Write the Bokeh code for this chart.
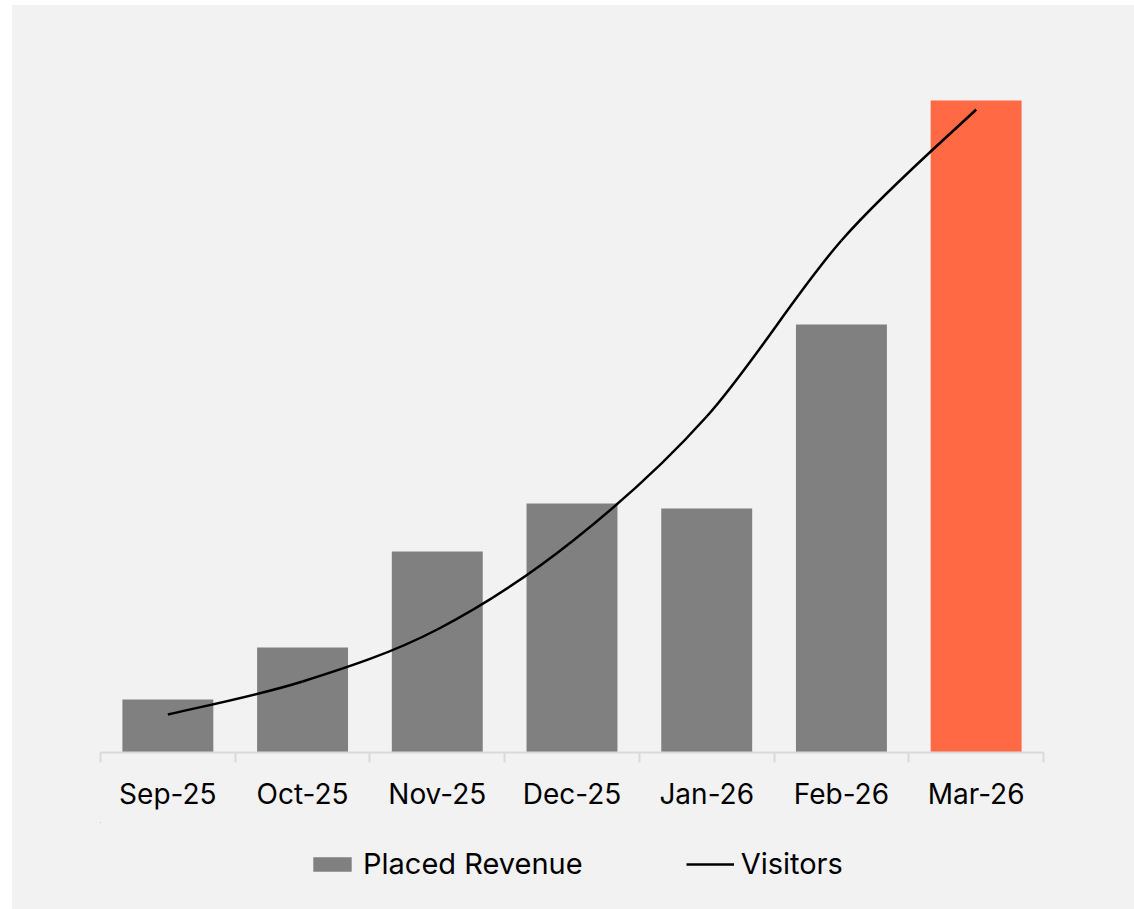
import numpy as np
from bokeh.plotting import figure
from bokeh.layouts import column
from bokeh.models import Range1d, FixedTicker, Legend, LegendItem, ColumnDataSource
from bokeh.embed import file_html
from bokeh.resources import INLINE

months = ["Sep-25", "Oct-25", "Nov-25", "Dec-25", "Jan-26", "Feb-26", "Mar-26"]
placed_revenue = [53, 105, 201, 249, 244, 428, 652]
visitors = [380, 710, 1230, 2110, 3360, 5120, 6430]
bar_colors = ["#808080"] * 6 + ["#FF6A45"]
series_names = ["Placed Revenue", "Visitors"]

FONT = "Inter"
BG = "#F2F2F2"

p = figure(width=1122, height=817, frame_width=943, frame_height=722,
           output_backend="svg", toolbar_location=None,
           x_range=Range1d(-0.5, 6.5), y_range=Range1d(0, 722),
           background_fill_color=BG, border_fill_color=BG,
           min_border_left=88, min_border_right=91, min_border_top=25,
           min_border_bottom=70)
p.outline_line_color = None
p.grid.visible = False
p.yaxis.visible = False
p.extra_y_ranges = {"v": Range1d(0, 7220)}

x = np.arange(len(months), dtype=float)
bars = p.vbar(x=x, top=placed_revenue, width=0.675, color=bar_colors, line_color=None)

# smoothed line (Excel-like Catmull-Rom -> Bezier)
vy = np.array(visitors, dtype=float)
prev_x = np.concatenate([[x[0]], x[:-1]])
next_x = np.concatenate([x[1:], [x[-1]]])
prev_y = np.concatenate([[vy[0]], vy[:-1]])
next_y = np.concatenate([vy[1:], [vy[-1]]])
c0x = x[:-1] + (next_x[:-1] - prev_x[:-1]) / 6
c0y = vy[:-1] + (next_y[:-1] - prev_y[:-1]) / 6
c1x = x[1:] - (next_x[1:] - prev_x[1:]) / 6
c1y = vy[1:] - (next_y[1:] - prev_y[1:]) / 6
src = ColumnDataSource(dict(x0=x[:-1], y0=vy[:-1], x1=x[1:], y1=vy[1:],
                            cx0=c0x, cy0=c0y, cx1=c1x, cy1=c1y))
p.bezier(x0="x0", y0="y0", x1="x1", y1="y1", cx0="cx0", cy0="cy0",
         cx1="cx1", cy1="cy1", source=src, line_color="black",
         line_width=2.5, y_range_name="v")

ax = p.xaxis[0]
ax.ticker = FixedTicker(ticks=list(range(len(months))),
                        minor_ticks=[i - 0.5 for i in range(len(months) + 1)])
ax.major_label_overrides = {i: m for i, m in enumerate(months)}
ax.major_tick_line_color = None
ax.major_tick_out = 10
ax.major_tick_in = 0
ax.minor_tick_line_color = "#D9D9D9"
ax.minor_tick_line_width = 2
ax.minor_tick_out = 10
ax.minor_tick_in = 0
ax.axis_line_color = "#D9D9D9"
ax.axis_line_width = 2
ax.major_label_text_font = FONT
ax.major_label_text_font_size = "28px"
ax.major_label_text_color = "black"
ax.major_label_standoff = 14

# legend strip (series drawn far out of view; only their legend glyphs show)
lg = figure(width=1122, height=87, output_backend="svg", toolbar_location=None,
            x_range=Range1d(500, 501), y_range=Range1d(-50000, -49000),
            background_fill_color=BG, border_fill_color=BG,
            min_border=0)
lg.outline_line_color = None
lg.axis.visible = False
lg.grid.visible = False
r_bar = lg.vbar(x=x, top=placed_revenue, width=0.675, color="#808080", line_color=None)
r_line = lg.line(x=x, y=visitors, line_color="black", line_width=2.5)

legend = Legend(items=[LegendItem(label=series_names[0], renderers=[r_bar]),
                       LegendItem(label=series_names[1], renderers=[r_line])],
                orientation="horizontal", location=(208, 28),
                label_text_font=FONT, label_text_font_size="29px",
                label_text_color="black",
                glyph_width=48, glyph_height=18, label_standoff=7,
                spacing=103, border_line_color=None,
                background_fill_alpha=0, margin=0, padding=0)
lg.add_layout(legend, "center")

layout = column(p, lg, spacing=0, margin=(5, 0, 0, 12),
                styles={"background-color": BG})
open("out.html", "w").write(file_html(layout, INLINE))
